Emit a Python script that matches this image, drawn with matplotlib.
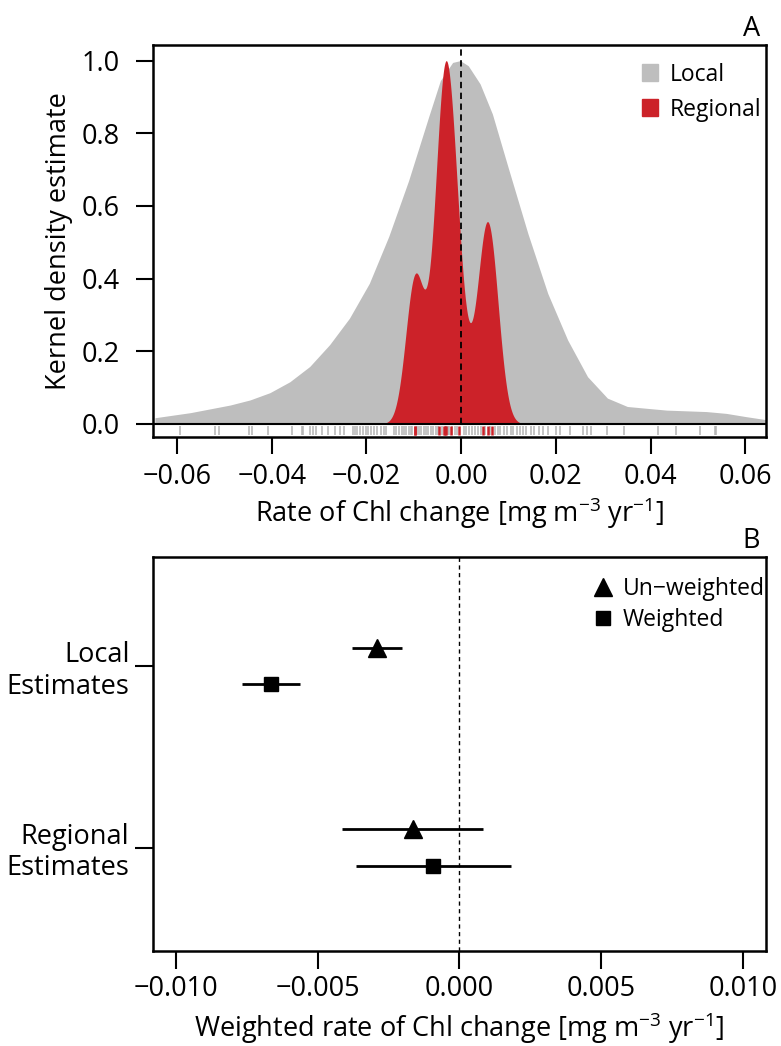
import numpy as np
import matplotlib.pyplot as plt
from matplotlib.patches import Patch
from matplotlib.lines import Line2D

plt.rcParams['font.family'] = ['Open Sans', 'DejaVu Sans']
plt.rcParams['mathtext.fontset'] = 'custom'
plt.rcParams['mathtext.rm'] = 'Open Sans'
plt.rcParams['mathtext.it'] = 'Open Sans'

# panel A: local kernel density (rate, scaled density)
local_x = [-0.0647, -0.0572, -0.0488, -0.0446, -0.0404, -0.0362, -0.0320, -0.0278,
           -0.0236, -0.0194, -0.0153, -0.0111, -0.0069, -0.0044, -0.0018, -0.0002,
           0.0015, 0.0040, 0.0066, 0.0099, 0.0141, 0.0183, 0.0225, 0.0267,
           0.0309, 0.0351, 0.0392, 0.0434, 0.0518, 0.0560, 0.0602, 0.0648]
local_y = [0.017, 0.031, 0.052, 0.066, 0.086, 0.116, 0.158, 0.218,
           0.291, 0.387, 0.516, 0.670, 0.844, 0.945, 0.995, 1.000,
           0.986, 0.936, 0.853, 0.707, 0.524, 0.359, 0.231, 0.130,
           0.071, 0.048, 0.043, 0.038, 0.034, 0.029, 0.020, 0.011]

# rug: individual local and regional rates
local_rug = [-0.0594, -0.0520, -0.0511, -0.0448, -0.0441, -0.0409, -0.0358, -0.0337,
             -0.0334, -0.0320, -0.0314, -0.0306, -0.0295, -0.0281, -0.0266, -0.0256,
             -0.0247, -0.0229, -0.0225, -0.0219, -0.0213, -0.0207, -0.0201, -0.0196,
             -0.0191, -0.0185, -0.0177, -0.0170, -0.0164, -0.0159, -0.0142, -0.0137,
             -0.0131, -0.0126, -0.0121, -0.0116, -0.0111, -0.0106, -0.0103, -0.0094,
             -0.0089, -0.0084, -0.0079, -0.0074, -0.0069, -0.0064, -0.0059, -0.0054,
             -0.0049, -0.0041, -0.0033, -0.0028, -0.0025, -0.0019, -0.0013, -0.0008,
             0.0005, 0.0010, 0.0016, 0.0022, 0.0029, 0.0035, 0.0042, 0.0051, 0.0061,
             0.0071, 0.0077, 0.0083, 0.0090, 0.0097, 0.0105, 0.0110, 0.0117, 0.0124,
             0.0131, 0.0137, 0.0147, 0.0154, 0.0164, 0.0173, 0.0183, 0.0200, 0.0209,
             0.0229, 0.0257, 0.0266, 0.0274, 0.0308, 0.0345, 0.0415, 0.0454, 0.0505,
             0.0536, 0.0539]
regional_rug = [-0.0097, -0.0097, -0.0046, -0.0037, -0.0035, -0.0031, -0.0021, -0.0004,
                0.0046, 0.0056, 0.0066]
regional_bw = 0.002

# panel B: mean rates with intervals
groups = ['Local\nEstimates', 'Regional\nEstimates']
unweighted = [-0.00292, -0.00165]
unweighted_lo = [-0.00379, -0.00414]
unweighted_hi = [-0.00201, 0.00082]
weighted = [-0.00665, -0.00092]
weighted_lo = [-0.00767, -0.00365]
weighted_hi = [-0.00562, 0.00180]

grey = '#bebebe'
red = '#cc2229'
fs = 19.5

fig = plt.figure(figsize=(7.81, 10.46), dpi=100)
axA = fig.add_axes([153/781, 1-437/1046, 613/781, 392/1046])
axB = fig.add_axes([153/781, 1-951/1046, 613/781, 394/1046])

# --- A
grid = np.linspace(-0.02, 0.017, 800)
obs = np.array(regional_rug)
dens = np.exp(-0.5*((grid[:, None] - obs[None, :])/regional_bw)**2).sum(axis=1)
dens = dens/dens.max()

axA.fill_between(local_x, 0, local_y, color=grey, lw=0)
axA.fill_between(grid, 0, dens, color=red, lw=0)
axA.vlines(local_rug, -0.031, -0.007, color='#b4b4b4', lw=1.1)
axA.vlines(regional_rug, -0.031, -0.007, color=red, lw=1.8)
axA.axhline(0, color='black', lw=1.5)
axA.vlines(0, 0, 1.05, color='black', lw=1.3, linestyles=(0, (3.5, 2.5)))
axA.set_xlim(-0.0651, 0.0644)
axA.set_ylim(-0.036, 1.043)
axA.set_xticks([-0.06, -0.04, -0.02, 0.00, 0.02, 0.04, 0.06])
axA.set_xticklabels(['\u22120.06', '\u22120.04', '\u22120.02', '0.00', '0.02', '0.04', '0.06'])
axA.set_yticks([0, 0.2, 0.4, 0.6, 0.8, 1.0])
axA.set_yticklabels(['0.0', '0.2', '0.4', '0.6', '0.8', '1.0'])
axA.tick_params(axis='y', length=12, width=1.5, pad=12, labelsize=fs)
axA.tick_params(axis='x', length=12, width=1.5, pad=7, labelsize=fs)
axA.set_ylabel('Kernel density estimate', fontsize=fs, labelpad=6)
axA.set_xlabel(r'Rate of Chl change [mg m$^{-3}$ yr$^{-1}$]', fontsize=fs, labelpad=3)
axA.text(0.99, 1.005, 'A', transform=axA.transAxes, ha='right', va='bottom', fontsize=fs)
handlesA = [Patch(color=grey), Patch(color=red)]
axA.legend(handlesA, ['Local', 'Regional'], loc='upper left', bbox_to_anchor=(0.797, 0.955),
           frameon=False, fontsize=16.5, borderpad=0, borderaxespad=0,
           handlelength=0.72, handleheight=0.72, handletextpad=0.5, labelspacing=0.48)

# --- B
ypos = np.array([2, 1])
off = 0.1
axB.errorbar(unweighted, ypos + off,
             xerr=[np.array(unweighted) - np.array(unweighted_lo), np.array(unweighted_hi) - np.array(unweighted)],
             fmt='^', color='black', ms=13, elinewidth=2, capsize=0)
axB.errorbar(weighted, ypos - off,
             xerr=[np.array(weighted) - np.array(weighted_lo), np.array(weighted_hi) - np.array(weighted)],
             fmt='s', color='black', ms=10, elinewidth=2, capsize=0)
axB.axvline(0, color='black', lw=1, linestyle=(0, (3, 2.5)))
axB.set_xlim(-0.0108, 0.0108)
axB.set_ylim(0.43, 2.6)
axB.set_xticks([-0.010, -0.005, 0.0, 0.005, 0.010])
axB.set_xticklabels(['\u22120.010', '\u22120.005', '0.000', '0.005', '0.010'])
axB.set_yticks(ypos)
axB.set_yticklabels(groups, ha='right', linespacing=1.15)
axB.tick_params(axis='y', length=13, width=1.5, pad=4, labelsize=fs)
axB.tick_params(axis='x', length=13, width=1.5, pad=4, labelsize=fs)
axB.set_xlabel(r'Weighted rate of Chl change [mg m$^{-3}$ yr$^{-1}$]', fontsize=fs, labelpad=6)
axB.text(0.99, 1.005, 'B', transform=axB.transAxes, ha='right', va='bottom', fontsize=fs)
handlesB = [Line2D([], [], marker='^', color='black', ls='', ms=13),
            Line2D([], [], marker='s', color='black', ls='', ms=10)]
axB.legend(handlesB, ['Un\u2212weighted', 'Weighted'], loc='upper right', bbox_to_anchor=(0.998, 0.95),
           frameon=False, fontsize=16.5, borderpad=0, borderaxespad=0,
           handlelength=1.0, handletextpad=0.35, labelspacing=0.3)

for ax in (axA, axB):
    for s in ax.spines.values():
        s.set_linewidth(1.8)

fig.savefig('out.png', dpi=100)
